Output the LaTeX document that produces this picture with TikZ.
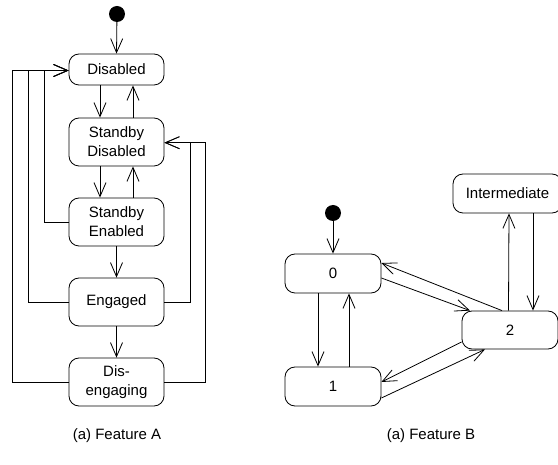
\documentclass[tikz,border=0pt]{standalone}
\usepackage{fontspec}
\setmainfont{Liberation Sans}
\usetikzlibrary{arrows.meta}
\begin{document}
\begin{tikzpicture}[x=1pt,y=-1pt,
  state/.style={draw, rounded corners=10pt, line width=0.8pt, minimum width=95pt, align=center, inner sep=0pt, font=\fontsize{15}{19}\selectfont},
  initdot/.style={circle, fill=black, minimum size=16pt, inner sep=0pt},
  arr/.style={draw, line width=0.8pt, -{Straight Barb[length=14pt,width=12pt,line width=0.8pt]}},
  captext/.style={font=\fontsize{15}{19}\selectfont}]
\clip (0,0) rectangle (558,465);
\useasboundingbox (0,0) rectangle (558,465);
% Feature A
\node[initdot] (ia) at (117,14) {};
\node[state, minimum height=31pt] (dis) at (116.5,69.5) {Disabled};
\node[state, minimum height=48pt] (sd) at (116.5,142) {Standby\\Disabled};
\node[state, minimum height=48pt] (se) at (116.5,222) {Standby\\Enabled};
\node[state, minimum height=48pt] (eng) at (116.5,302) {Engaged};
\node[state, minimum height=48pt] (dg) at (116.5,382) {Dis-\\engaging};
\draw[arr] (ia) -- (dis.north);
\draw[arr] ([xshift=-16.5pt]dis.south) -- ([xshift=-16.5pt]sd.north);
\draw[arr] ([xshift=16.5pt]sd.north) -- ([xshift=16.5pt]dis.south);
\draw[arr] ([xshift=-16.5pt]sd.south) -- ([xshift=-16.5pt]se.north);
\draw[arr] ([xshift=16.5pt]se.north) -- ([xshift=16.5pt]sd.south);
\draw[arr] (se.south) -- (eng.north);
\draw[arr] (eng.south) -- (dg.north);
\draw[arr] (se.west) -- ++(-24,0) |- ([yshift=-1pt]dis.west);
\draw[arr] (eng.west) -- ++(-40,0) |- ([yshift=-1pt]dis.west);
\draw[arr] (dg.west) -- ++(-56,0) |- ([yshift=-1pt]dis.west);
\draw[arr] (eng.east) -- ++(26,0) |- ([yshift=-0.7pt]sd.east);
\draw[arr] (dg.east) -- ++(41,0) |- ([yshift=-0.7pt]sd.east);
% Feature B
\node[initdot] (ib) at (333,213) {};
\node[state, minimum width=96pt, minimum height=39pt] (n0) at (333,273.5) {0};
\node[state, minimum width=96pt, minimum height=39pt] (n1) at (333,386.5) {1};
\node[state, minimum width=96pt, minimum height=38pt] (n2) at (510,330) {2};
\node[state, minimum width=109pt, minimum height=39pt] (im) at (507.5,193.5) {Intermediate};
\draw[arr] (ib) -- (n0.north);
\draw[arr] ([xshift=-15pt]n0.south) -- ([xshift=-15pt]n1.north);
\draw[arr] ([xshift=16pt]n1.north) -- ([xshift=16pt]n0.south);
\draw[arr] ([yshift=-4.5pt]n0.east) -- ([xshift=-40pt]n2.north);
\draw[arr] ([xshift=-8pt]n2.north) -- ([yshift=10.5pt]n0.east);
\draw[arr] ([xshift=-1.5pt]n2.north) -- ([xshift=1.5pt]im.south);
\draw[arr] ([xshift=25.5pt]im.south) -- ([xshift=23pt]n2.north);
\draw[arr] ([yshift=-12pt]n2.west) -- ([yshift=4.5pt]n1.east);
\draw[arr] ([yshift=-11.5pt]n1.east) -- ([xshift=-25pt]n2.south);
% captions
\node[captext] (capa) at (117,436) {(a) Feature A};
\node[captext] (capb) at (431,436) {(a) Feature B};
\end{tikzpicture}
\end{document}
